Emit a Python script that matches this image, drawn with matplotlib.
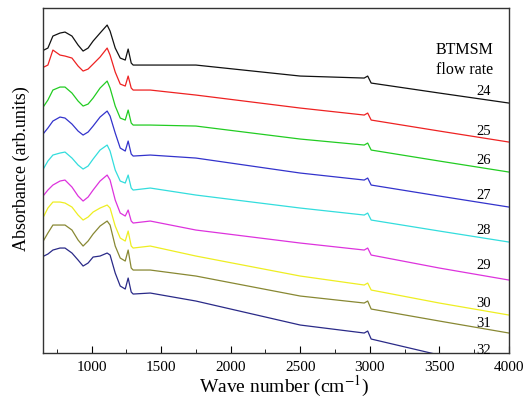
import numpy as np
import matplotlib.pyplot as plt

wavenumber = [657, 686, 722, 773, 809, 859, 903, 939, 975, 1011, 1061, 1112, 1133,
              1170, 1206, 1242, 1263, 1285, 1299, 1422, 1750, 2500, 2960, 2985,
              3010, 3500, 4000]

# readings measured downward from the top of the frame (arb. units)
depth_24 = [42, 40, 28, 25, 24, 28, 37, 43, 40, 33, 25, 17, 23, 40, 50, 52, 41, 55,
            57, 57, 57, 68, 70, 68, 75, 85, 95]
depth_25 = [59, 57, 42, 47, 48, 50, 58, 63, 61, 56, 49, 40, 47, 64, 76, 78, 68, 80,
            82, 82, 87, 100, 107, 105, 112, 123, 134]
depth_26 = [98, 92, 82, 79, 79, 85, 93, 98, 96, 90, 80, 73, 80, 98, 110, 112, 102, 115,
            117, 117, 118, 131, 137, 135, 142, 153, 164]
depth_27 = [125, 120, 113, 109, 110, 116, 123, 127, 124, 118, 109, 103, 108, 125, 140,
            143, 133, 146, 148, 147, 150, 165, 172, 170, 177, 188, 199]
depth_28 = [160, 153, 147, 145, 144, 150, 157, 161, 158, 151, 142, 137, 143, 162, 173,
            175, 167, 180, 182, 180, 187, 200, 207, 205, 212, 223, 234]
depth_29 = [187, 182, 177, 173, 172, 179, 188, 193, 189, 182, 173, 167, 172, 192, 205,
            208, 202, 213, 215, 213, 222, 235, 242, 240, 247, 260, 272]
depth_30 = [208, 200, 194, 194, 195, 199, 207, 212, 209, 204, 200, 197, 200, 218, 230,
            233, 223, 238, 240, 238, 248, 268, 277, 275, 282, 295, 307]
depth_31 = [232, 225, 217, 217, 217, 222, 232, 238, 233, 226, 218, 213, 217, 238, 250,
            253, 242, 260, 262, 262, 268, 288, 295, 293, 301, 313, 325]
depth_32 = [248, 246, 242, 240, 240, 245, 252, 258, 255, 249, 248, 245, 247, 265, 278,
            281, 270, 284, 286, 285, 293, 317, 325, 323, 331, 347, 362]

flow_rates = ["24", "25", "26", "27", "28", "29", "30", "31", "32"]
label_depth = [83, 123, 152, 187, 222, 257, 295, 315, 342]

colors = ["#111111", "#ee2222", "#22cc22", "#3333cc", "#33dddd",
          "#dd33dd", "#eeee22", "#888833", "#2a2a88"]

plt.rcParams['font.family'] = ['Liberation Serif', 'DejaVu Serif']
plt.rcParams['mathtext.fontset'] = 'stix'

fig = plt.figure(figsize=(5.23, 4.03), dpi=100)
ax = fig.add_axes([0.082, 0.124, 0.891, 0.856])

top = 345.0  # frame height in the same units
all_depths = [depth_24, depth_25, depth_26, depth_27, depth_28,
              depth_29, depth_30, depth_31, depth_32]
for d, c in zip(all_depths, colors):
    ax.plot(wavenumber, (top - np.array(d)) / 100.0, color=c, lw=0.9)

for lab, d in zip(flow_rates, label_depth):
    ax.text(3820, (top - d) / 100.0, lab, ha='center', va='center', fontsize=10.5)

ax.text(3680, (top - 42) / 100.0, "BTMSM", ha='center', va='center', fontsize=11.5)
ax.text(3680, (top - 62) / 100.0, "flow rate", ha='center', va='center', fontsize=11.5)

ax.set_xlim(650, 4000)
ax.set_ylim(0, top / 100.0)
ax.set_xticks([1000, 1500, 2000, 2500, 3000, 3500, 4000])
ax.set_xticks(np.arange(750, 4000, 500), minor=True)
ax.set_yticks([])
ax.tick_params(axis='x', which='major', direction='in', length=5, labelsize=11, pad=6)
ax.tick_params(axis='x', which='minor', direction='in', length=3)
for s in ax.spines.values():
    s.set_linewidth(1.0)
    s.set_color('#333333')

ax.set_xlabel("Wave number (cm$^{-1}$)", fontsize=14)
ax.set_ylabel("Absorbance (arb.units)", fontsize=13)
ax.xaxis.set_label_coords(0.517, -0.06)
ax.yaxis.set_label_coords(-0.028, 0.536)

fig.savefig("out.png", dpi=100)
